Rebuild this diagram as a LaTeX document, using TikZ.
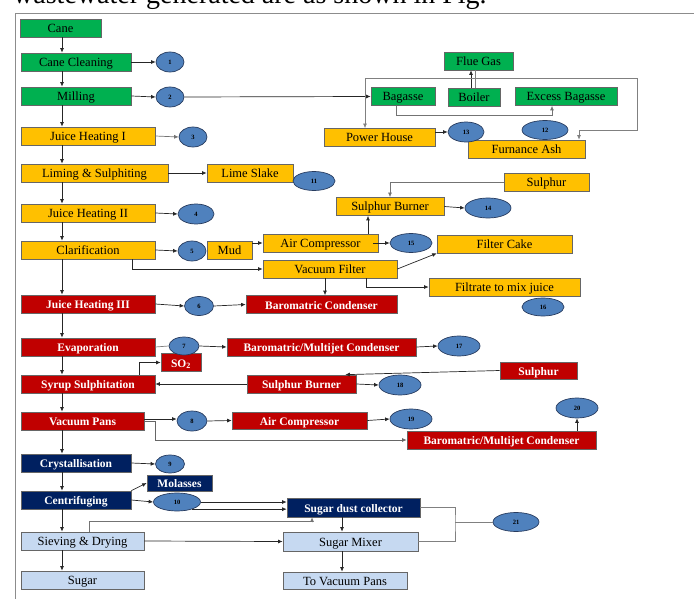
\documentclass[tikz,border=0pt]{standalone}
\usepackage{fontspec}
\setmainfont{Liberation Serif}
\usetikzlibrary{shapes.geometric,arrows.meta}
\definecolor{procgreen}{RGB}{0,176,80}
\definecolor{procyellow}{RGB}{255,192,0}
\definecolor{procred}{RGB}{192,0,0}
\definecolor{procnavy}{RGB}{0,32,96}
\definecolor{proclight}{RGB}{198,217,241}
\definecolor{streamblue}{RGB}{79,129,189}
\definecolor{streamedge}{RGB}{40,60,95}
\begin{document}
\begin{tikzpicture}[x=1pt,y=-1pt,>={Latex[length=4.5pt,width=4pt]}]
        \tikzstyle{box}=[draw=black!60,line width=0.7pt,inner sep=0pt,minimum height=18pt,text height=10pt,text depth=1pt]
        \tikzstyle{gbox}=[box,fill=procgreen,font=\fontsize{12.5}{13}\selectfont]
        \tikzstyle{ybox}=[box,fill=procyellow,font=\fontsize{12.5}{13}\selectfont]
        \tikzstyle{lbox}=[box,fill=proclight,font=\fontsize{12.5}{13}\selectfont]
        \tikzstyle{rbox}=[box,fill=procred,text=white,font=\fontsize{11.5}{12}\selectfont\bfseries]
        \tikzstyle{nbox}=[box,fill=procnavy,text=white,font=\fontsize{11.5}{12}\selectfont\bfseries]
        \tikzstyle{stream}=[ellipse,draw=streamedge,line width=0.7pt,fill=streamblue,inner sep=0pt,minimum width=42pt,minimum height=20pt,font=\fontsize{6.5}{7}\selectfont\bfseries]
        \tikzstyle{arr}=[->,draw=black!85,line width=0.7pt]
        \tikzstyle{link}=[draw=black!50,line width=0.7pt]
       \useasboundingbox (0,0) rectangle (694,599);
       \node [anchor=base west,inner sep=0pt,font=\fontsize{28}{28}\selectfont] (caption) at (13,3.5) {wastewater generated are as shown in Fig.};
       \draw [black!45,line width=0.7pt] (15,599) -- (15,13) -- (694,13);
       % main line
       \begin{scope}
         \node [gbox,minimum width=81pt]  (cane)     at (60.5,28)  {Cane};
         \node [gbox,minimum width=110pt] (cleaning) at (76,62)    {Cane Cleaning};
         \node [gbox,minimum width=110pt] (milling)  at (76,96)    {Milling};
         \node [ybox,minimum width=134pt] (heat1)    at (88,136)   {Juice Heating I};
         \node [ybox,minimum width=147pt] (liming)   at (94.5,173) {Liming \& Sulphiting};
         \node [ybox,minimum width=134pt] (heat2)    at (88,213)   {Juice Heating II};
         \node [ybox,minimum width=134pt] (clarify)  at (88,250)   {Clarification};
         \node [rbox,minimum width=134pt] (heat3)    at (88,304)   {Juice Heating III};
         \node [rbox,minimum width=134pt] (evap)     at (88,347)   {Evaporation};
         \node [rbox,minimum width=134pt] (syrup)    at (88,384)   {Syrup Sulphitation};
         \node [rbox,minimum width=123pt] (pans)     at (82.5,421) {Vacuum Pans};
         \node [nbox,minimum width=110pt] (cryst)    at (76,463)   {Crystallisation};
         \node [nbox,minimum width=110pt] (centri)   at (76,500)   {Centrifuging};
         \node [lbox,minimum width=123pt] (sieve)    at (82.5,541) {Sieving \& Drying};
         \node [lbox,minimum width=123pt] (sugar)    at (82.5,580) {Sugar};
         \coordinate (spine) at (62,0);
         \foreach \a/\b in {cane/cleaning,cleaning/milling,milling/heat1,heat1/liming,liming/heat2,heat2/clarify,clarify/heat3,heat3/evap,evap/syrup,syrup/pans,pans/cryst,cryst/centri,centri/sieve,sieve/sugar}
           \draw [arr] (\a.south -| spine) -- (\b.north -| spine);
       \end{scope}
       % side units
       \node [gbox,minimum width=69pt]  (flue)     at (478.5,61)  {Flue Gas};
       \node [gbox,minimum width=52pt]  (boiler)   at (474,97)    {Boiler};
       \node [gbox,minimum width=64pt]  (bagasse)  at (403,96.5)  {Bagasse};
       \node [gbox,minimum width=102pt] (excess)   at (566,96.5)  {Excess Bagasse};
       \node [ybox,minimum width=111pt] (power)    at (379.5,137.5) {Power House};
       \node [ybox,minimum width=117pt] (ash)      at (526.5,149) {Furnance Ash};
       \node [ybox,minimum width=86pt]  (lime)     at (250,173)   {Lime Slake};
       \node [ybox,minimum width=85pt]  (sulphA)   at (546.5,182.5) {Sulphur};
       \node [ybox,minimum width=108pt] (burnerA)  at (390,206.5) {Sulphur Burner};
       \node [ybox,minimum width=45pt]  (mud)      at (229.5,250) {Mud};
       \node [ybox,minimum width=115pt] (compA)    at (320.5,243) {Air Compressor};
       \node [ybox,minimum width=134pt] (vfilter)  at (330,269)   {Vacuum Filter};
       \node [ybox,minimum width=135pt] (cake)     at (504.5,244) {Filter Cake};
       \node [ybox,minimum width=151pt] (filtrate) at (504.5,287) {Filtrate to mix juice};
       \node [rbox,minimum width=151pt] (condA)    at (321.5,304.5) {Baromatric Condenser};
       \node [rbox,minimum width=189pt] (condB)    at (321.5,347) {Baromatric/Multijet Condenser};
       \node [rbox,minimum width=40pt]  (so2)      at (181,362.5) {SO$_\mathbf{2}$};
       \node [rbox,minimum width=109pt] (burnerB)  at (301.5,384) {Sulphur Burner};
       \node [rbox,minimum width=77pt,minimum height=17pt] (sulphB) at (538.5,370.5) {Sulphur};
       \node [rbox,minimum width=135pt,minimum height=17pt] (compB) at (299.5,420.5) {Air Compressor};
       \node [rbox,minimum width=189pt] (condC)    at (501.5,440) {Baromatric/Multijet Condenser};
       \node [nbox,minimum width=65pt,minimum height=16pt] (molasses) at (179.5,483) {Molasses};
       \node [nbox,minimum width=133pt,minimum height=19pt] (dust) at (353.5,507.5) {Sugar dust collector};
       \node [lbox,minimum width=135pt,minimum height=19pt] (mixer) at (350.5,541.5) {Sugar Mixer};
       \node [lbox,minimum width=124pt,minimum height=17pt] (topans) at (345,580.5) {To Vacuum Pans};
       % waste streams
       \node [stream,minimum width=28pt] (w1)  at (170,62)  {1};
       \node [stream,minimum width=28pt] (w2)  at (170,97)  {2};
       \node [stream,minimum width=28pt] (w3)  at (193,137) {3};
       \node [stream,minimum width=36pt] (w4)  at (196,214) {4};
       \node [stream,minimum width=28pt] (w5)  at (192,251) {5};
       \node [stream,minimum width=29pt,minimum height=19pt] (w6) at (199,306) {6};
       \node [stream,minimum width=30pt,minimum height=18pt] (w7) at (184,346) {7};
       \node [stream,minimum width=30pt] (w8)  at (192,421) {8};
       \node [stream,minimum width=29pt,minimum height=18pt] (w9) at (170,464) {9};
       \node [stream,minimum width=47pt,minimum height=18pt] (w10) at (177,502) {10};
       \node [stream,minimum height=19pt] (w11) at (314,181) {11};
       \node [stream,minimum width=46pt,minimum height=19pt] (w12) at (545,130) {12};
       \node [stream,minimum width=36pt] (w13) at (466,132) {13};
       \node [stream,minimum width=46pt] (w14) at (488,208) {14};
       \node [stream,minimum height=19pt] (w15) at (411,243) {15};
       \node [stream,minimum height=18pt] (w16) at (543,307) {16};
       \node [stream] (w17) at (459,346) {17};
       \node [stream] (w18) at (400,385) {18};
       \node [stream] (w19) at (411,419) {19};
       \node [stream] (w20) at (577,408) {20};
       \node [stream,minimum width=46pt,minimum height=19pt] (w21) at (516,522) {21};
       % connectors
       \draw [arr] (cleaning.east) -- (w1.west);
       \draw [arr] (milling.east) -- (w2.west);
       \draw [arr] (w2.east) -- (bagasse.west);
       \draw [arr,draw=black!55] (heat1.east) -- (w3.west);
       \draw [arr] (liming.east) -- (lime.west);
       \draw [arr] (heat2.east) -- (w4.west);
       \draw [arr] (clarify.east) -- (w5.west);
       \draw [arr] ([xshift=44pt]clarify.south) |- (vfilter.west);
       \draw [arr] (mud.east |- compA.west) -- (compA.west);
       \draw [arr] (heat3.east) -- (w6.west);
       \draw [arr] (w6.east) -- (condA.west);
       \draw [arr] ([xshift=-5pt]vfilter.south) -- ([xshift=-5pt]vfilter.south |- condA.north);
       \draw [arr] (vfilter.east) -- (cake.south west);
       \draw [arr] ([xshift=36pt]vfilter.south) |- (filtrate.west);
       \draw [arr] ([xshift=47.5pt]compA.north) -- ([xshift=47.5pt]compA.north |- burnerA.south);
       \draw [arr] ([xshift=-5pt]compA.east) -- (w15.west);
       \draw [arr] (burnerA.east) -- (w14.west);
       \draw [arr,draw=black!55] (sulphA.west) -| (burnerA.north);
       \draw [arr] ([xshift=-3pt]boiler.north) -- ([xshift=-3pt]boiler.north |- flue.south);
       \draw [link] ([xshift=1pt]boiler.north) -- ([xshift=1pt]boiler.north |- flue.south);
       \draw [arr,draw=black!55] ([xshift=-7pt]bagasse.south) -- ++(0,10) -| ([xshift=-14pt]excess.south);
       \coordinate (loopNE) at (637,78);
       \coordinate (loopSE) at (637,130);
       \draw [<->,link] ([xshift=-14.5pt]power.north) |- (loopNE) -- (loopSE) -| ([xshift=52.5pt]ash.north);
       \draw [arr] (power.east |- w13.west) -- (w13.west);
       \draw [link] (evap.east) -- (w7.west);
       \draw [arr] (w7.east) -- (condB.west);
       \draw [arr] (condB.east) -- (w17.west);
       \draw [arr] ([xshift=51pt]syrup.north) |- (so2.west);
       \draw [arr] (burnerB.west) -- (syrup.east);
       \draw [arr] (sulphB.west) -- ([xshift=-11pt]burnerB.north east);
       \draw [arr] (burnerB.east) -- (w18.west);
       \draw [arr] ([yshift=2pt]pans.east) -- ([yshift=2pt]pans.east -| w8.west);
       \draw [arr] (w8.east) -- (compB.west);
       \draw [arr] (compB.east) -- (w19.west);
       \draw [arr,draw=black!60] (pans.east) -- ++(11,0) |- (condC.west);
       \draw [arr] (condC.north -| w20) -- (w20.south);
       \draw [arr] (cryst.east) -- (w9.west);
       \draw [arr] (centri.north east) -- (molasses.west);
       \draw [arr] (centri.east) -- (w10.west);
       \draw [arr] (w10.east) -- (w10.east -| dust.west);
       \draw [arr] (w10.-25) -- (w10.-25 -| dust.west);
       \draw [arr,draw=black!55] ([xshift=6.5pt]sieve.north) -- ++(0,-10) -| ([xshift=-41.5pt]dust.south);
       \draw [arr] ([xshift=-11.5pt]dust.south) -- ([xshift=-11.5pt]dust.south |- mixer.north);
       \draw [arr] (sieve.east) -- (mixer.west);
       \draw [arr] ([xshift=-8.5pt]mixer.south) -- ([xshift=-8.5pt]mixer.south |- topans.north);
       \coordinate (brk) at (455,522);
       \draw [link] (dust.east) -| (brk) |- (mixer.east);
       \draw [link] (brk) -- (w21.west);
\end{tikzpicture}
\end{document}
